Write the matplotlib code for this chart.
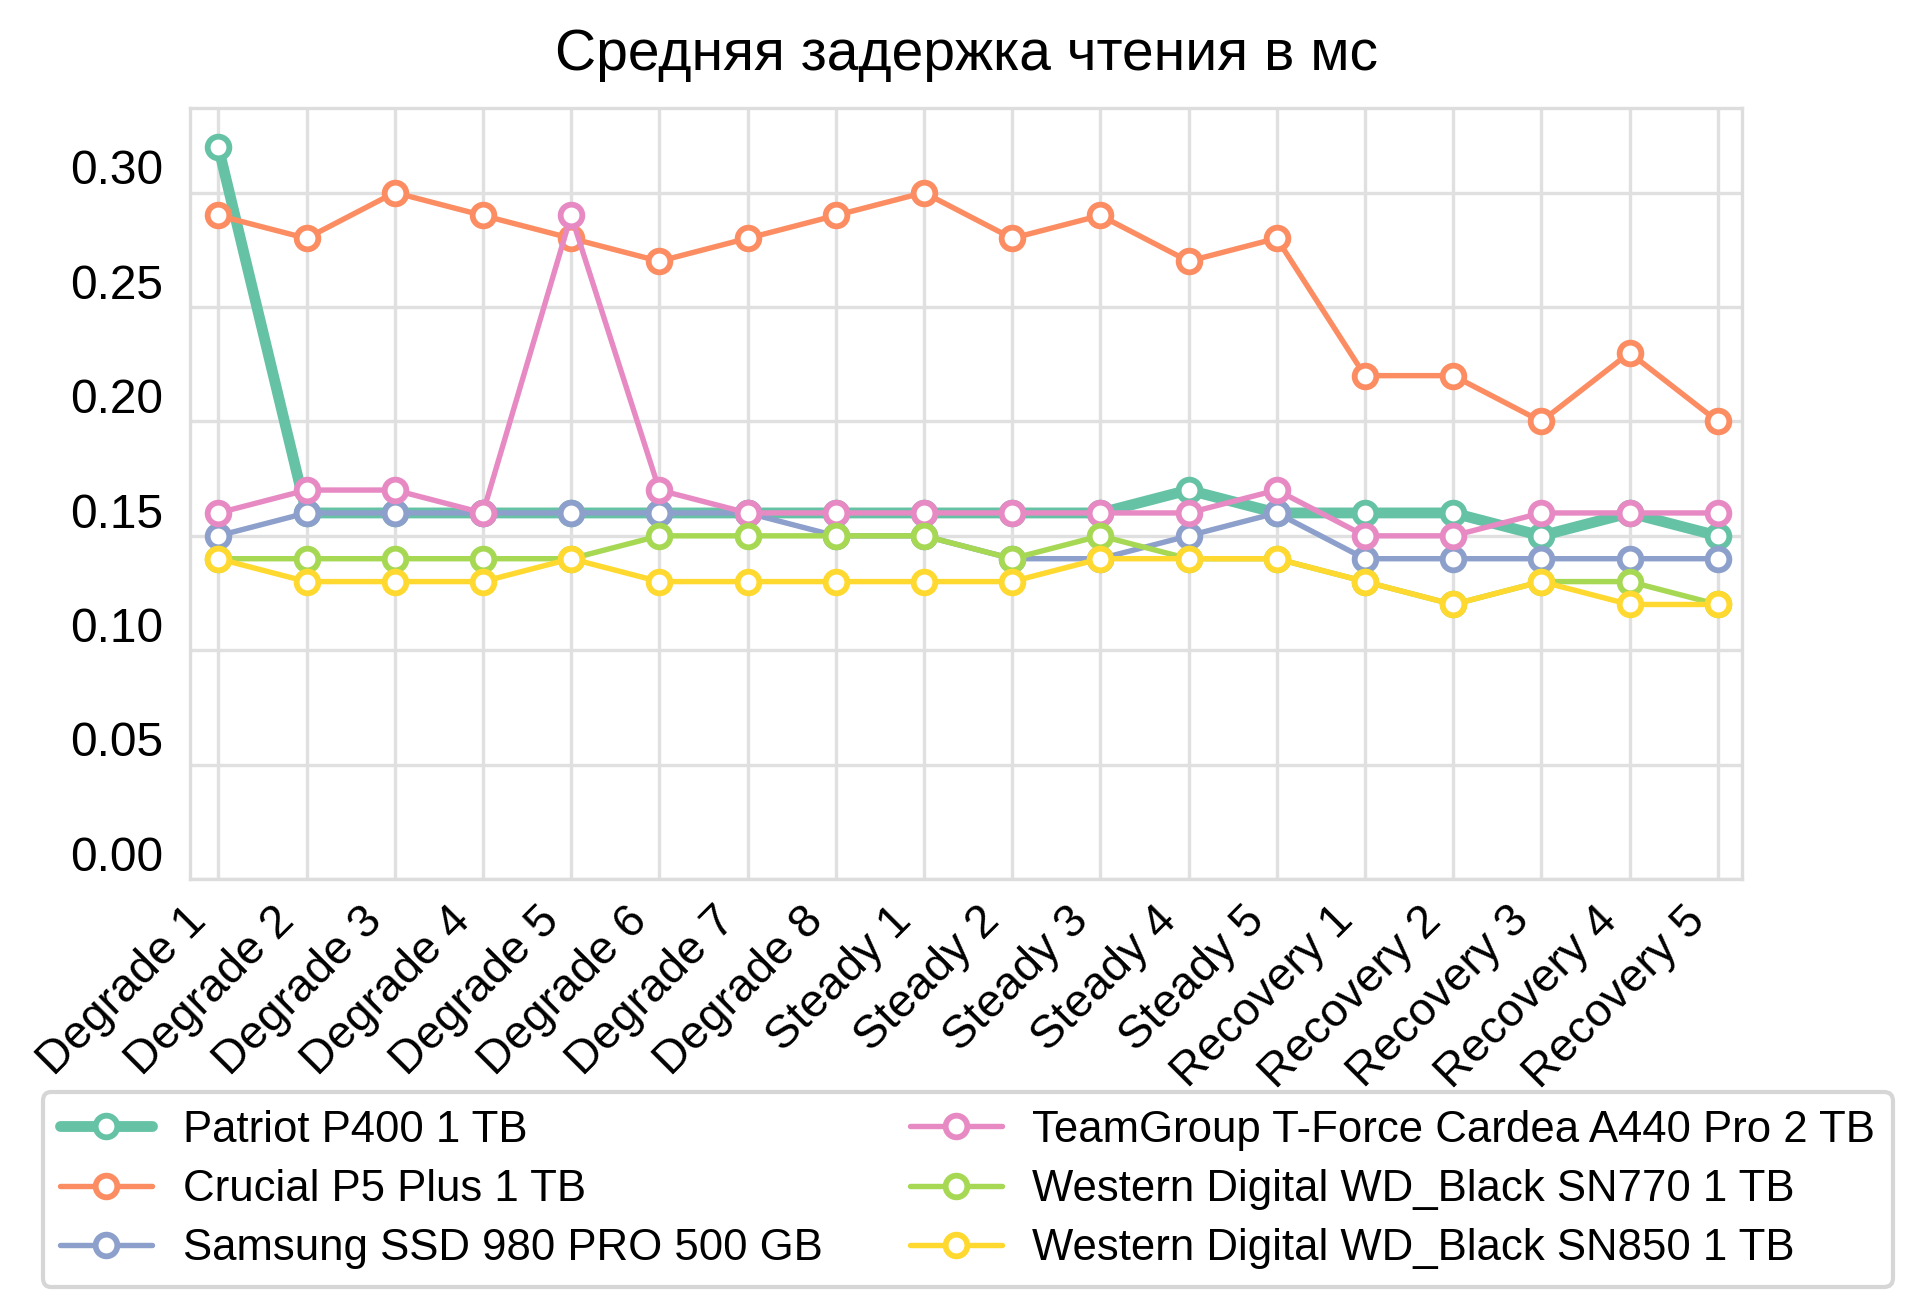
import numpy as np
import matplotlib.pyplot as plt
import matplotlib.transforms as mtransforms
import seaborn as sns

# Этапы теста
stages = ["Degrade 1", "Degrade 2", "Degrade 3", "Degrade 4", "Degrade 5", "Degrade 6",
          "Degrade 7", "Degrade 8", "Steady 1", "Steady 2", "Steady 3", "Steady 4",
          "Steady 5", "Recovery 1", "Recovery 2", "Recovery 3", "Recovery 4", "Recovery 5"]

# Задержка чтения, мс
patriot = [0.32, 0.16, 0.16, 0.16, 0.16, 0.16, 0.16, 0.16, 0.16,
           0.16, 0.16, 0.17, 0.16, 0.16, 0.16, 0.15, 0.16, 0.15]
crucial = [0.29, 0.28, 0.30, 0.29, 0.28, 0.27, 0.28, 0.29, 0.30,
           0.28, 0.29, 0.27, 0.28, 0.22, 0.22, 0.20, 0.23, 0.20]
samsung = [0.15, 0.16, 0.16, 0.16, 0.16, 0.16, 0.16, 0.15, 0.15,
           0.14, 0.14, 0.15, 0.16, 0.14, 0.14, 0.14, 0.14, 0.14]
teamgroup = [0.16, 0.17, 0.17, 0.16, 0.29, 0.17, 0.16, 0.16, 0.16,
             0.16, 0.16, 0.16, 0.17, 0.15, 0.15, 0.16, 0.16, 0.16]
sn770 = [0.14, 0.14, 0.14, 0.14, 0.14, 0.15, 0.15, 0.15, 0.15,
         0.14, 0.15, 0.14, 0.14, 0.13, 0.12, 0.13, 0.13, 0.12]
sn850 = [0.14, 0.13, 0.13, 0.13, 0.14, 0.13, 0.13, 0.13, 0.13,
         0.13, 0.14, 0.14, 0.14, 0.13, 0.12, 0.13, 0.12, 0.12]

series = [
    ("Patriot P400 1 TB", patriot),
    ("Crucial P5 Plus 1 TB", crucial),
    ("Samsung SSD 980 PRO 500 GB", samsung),
    ("TeamGroup T-Force Cardea A440 Pro 2 TB", teamgroup),
    ("Western Digital WD_Black SN770 1 TB", sn770),
    ("Western Digital WD_Black SN850 1 TB", sn850),
]

sns.set_style("whitegrid")
plt.rcParams["font.family"] = ["Liberation Sans", "DejaVu Sans"]
plt.rcParams["text.color"] = "black"
plt.rcParams["xtick.color"] = "black"
plt.rcParams["ytick.color"] = "black"
colors = sns.color_palette("Set2", 6)

fig = plt.figure(figsize=(6.4, 4.3867), dpi=300)
ax = fig.add_axes([0.099, 0.332, 0.8085, 0.586])

x = np.arange(len(stages))
for i, (name, vals) in enumerate(series):
    lw = 2.6 if i == 0 else 1.3
    ax.plot(x, vals, color=colors[i], lw=lw, marker="o", markersize=5.2,
            markerfacecolor="white", markeredgewidth=1.4, label=name)

ax.set_xlim(-0.32, len(stages) - 1 + 0.28)
ax.set_ylim(0, 0.337)
ax.tick_params(length=0, pad=3)
ax.tick_params(axis="y", pad=6.5)
ax.set_xticks(x)
ax.set_xticklabels(stages, rotation=45, ha="right", fontsize=11.2)
yt = np.arange(0, 0.31, 0.05)
ax.set_yticks(yt)
ax.set_yticklabels([f"{v:.2f}" for v in yt], fontsize=11.5)

# подписи осей сдвинуты, как в оригинале
offy = mtransforms.ScaledTranslation(0, 6.2 / 72, fig.dpi_scale_trans)
for lab in ax.get_yticklabels():
    lab.set_transform(lab.get_transform() + offy)
offx = mtransforms.ScaledTranslation(-0.8 / 72, -1.6 / 72, fig.dpi_scale_trans)
for lab in ax.get_xticklabels():
    lab.set_transform(lab.get_transform() + offx)

for sp in ax.spines.values():
    sp.set_color("#dddddd")
ax.grid(color="#e0e0e0", lw=0.8)

ax.set_title("Средняя задержка чтения в мс", fontsize=13.7, pad=9)

fig.legend(loc="lower center", bbox_to_anchor=(0.504, 0.0055), ncol=2,
           fontsize=10.5, frameon=True, edgecolor="#cccccc", columnspacing=2.0,
           handlelength=2.1, handletextpad=0.7, labelspacing=0.42)

fig.savefig("out.png", dpi=300)
